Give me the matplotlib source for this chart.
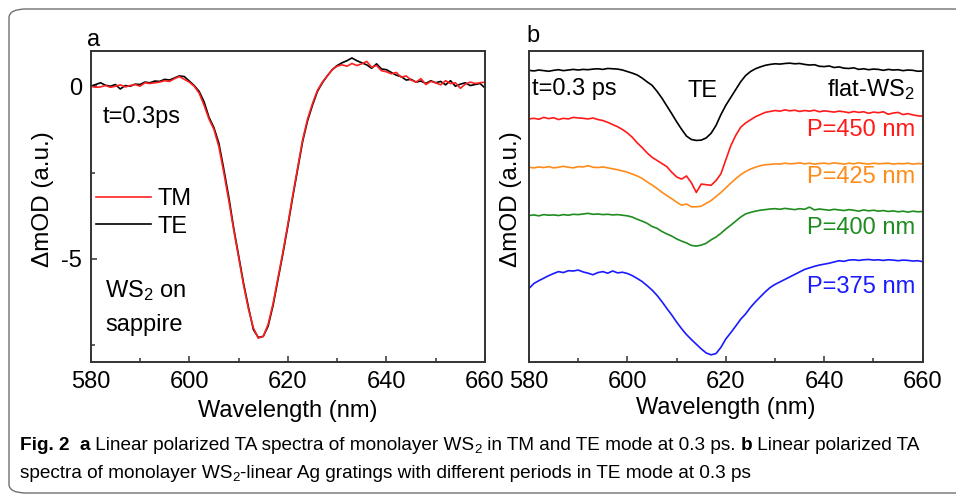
import numpy as np
import matplotlib
matplotlib.use("Agg")
from matplotlib import pyplot as plt
from matplotlib.patches import FancyBboxPatch

plt.rcParams['font.family'] = ['Liberation Sans', 'DejaVu Sans']
plt.rcParams['mathtext.fontset'] = 'custom'
plt.rcParams['mathtext.rm'] = 'Liberation Sans'
plt.rcParams['mathtext.it'] = 'Liberation Sans'

# ---- panel a : WS2 on sapphire, TM vs TE (1 nm steps, 580..660)
wl = np.arange(580, 661)
te = [0.00, 0.05, 0.10, 0.03, 0.00, 0.05, -0.08, 0.02, 0.00, 0.06,
      0.05, 0.12, 0.10, 0.15, 0.14, 0.20, 0.18, 0.24, 0.30, 0.28,
      0.15, 0.02, -0.15, -0.45, -0.90, -1.20, -1.65, -2.40, -3.20, -4.10,
      -4.90, -5.70, -6.40, -7.05, -7.28, -7.25, -6.95, -6.35, -5.60, -4.85,
      -4.05, -3.20, -2.40, -1.60, -1.00, -0.55, -0.15, 0.10, 0.30, 0.48,
      0.60, 0.68, 0.74, 0.82, 0.74, 0.68, 0.62, 0.52, 0.65, 0.50,
      0.48, 0.40, 0.32, 0.28, 0.18, 0.20, 0.12, 0.15, 0.08, 0.16,
      0.10, 0.14, 0.04, 0.16, 0.00, 0.06, 0.10, 0.02, 0.05, 0.08, -0.05]
tm = [0.00, -0.03, -0.02, 0.02, -0.03, 0.00, 0.04, -0.02, 0.02, 0.05,
      0.00, 0.10, 0.08, 0.10, 0.12, 0.16, 0.14, 0.22, 0.28, 0.20,
      0.12, 0.00, -0.20, -0.55, -0.95, -1.25, -1.75, -2.50, -3.30, -4.15,
      -4.95, -5.75, -6.45, -7.00, -7.30, -7.25, -6.90, -6.30, -5.55, -4.80,
      -4.00, -3.15, -2.35, -1.55, -0.95, -0.50, -0.12, 0.12, 0.30, 0.48,
      0.58, 0.62, 0.58, 0.66, 0.60, 0.65, 0.72, 0.55, 0.60, 0.45,
      0.42, 0.36, 0.40, 0.26, 0.30, 0.18, 0.12, 0.22, 0.05, 0.14,
      0.10, 0.04, 0.16, 0.08, 0.10, -0.06, 0.06, 0.12, 0.08, 0.10, 0.12]

# ---- panel b : gratings, TE mode (arbitrary offset units)
flat = [93.7, 93.5, 93.8, 93.6, 93.4, 93.7, 93.9, 93.6, 93.8, 94.0,
        93.8, 94.0, 93.9, 94.1, 94.2, 94.0, 94.3, 94.2, 94.1, 93.8,
        93.3, 92.8, 92.2, 91.2, 90.0, 88.9, 87.0, 84.8, 82.3, 79.8,
        77.2, 74.8, 72.6, 71.5, 71.2, 71.3, 72.0, 73.5, 76.0, 79.5,
        82.5, 85.0, 87.5, 90.0, 92.0, 93.3, 94.2, 94.8, 95.3, 95.6,
        95.8, 95.7, 95.9, 96.0, 95.8, 95.9, 95.6, 95.4, 95.5, 95.0,
        94.9, 95.1, 94.6, 94.8, 94.4, 94.3, 94.5, 94.0, 94.2, 93.9,
        94.1, 94.0, 93.7, 94.0, 93.8, 93.9, 93.6, 93.8, 93.7, 93.4, 93.5]
p450 = [78.1, 78.3, 78.0, 78.6, 78.2, 78.5, 77.9, 78.3, 78.1, 78.6,
        78.4, 78.3, 78.1, 78.4, 77.9, 77.6, 77.0, 76.3, 75.6, 74.7,
        73.6, 72.2, 70.4, 68.9, 67.2, 65.8, 64.8, 63.8, 62.8, 61.0,
        59.5, 58.8, 59.8, 57.6, 54.5, 57.2, 57.0, 56.8, 58.3, 60.5,
        65.0, 69.5, 72.8, 75.4, 76.8, 77.8, 78.8, 79.5, 80.2, 80.5,
        80.8, 80.6, 81.0, 80.7, 80.9, 80.5, 80.8, 80.6, 80.9, 80.4,
        80.7, 80.5, 80.3, 80.6, 80.4, 80.1, 80.5, 80.2, 80.4, 79.9,
        80.3, 80.1, 80.4, 79.6, 80.0, 80.2, 79.5, 79.8, 79.4, 79.1, 79.0]
p425 = [62.6, 62.4, 62.7, 62.5, 62.8, 62.4, 62.6, 62.9, 62.6, 62.4,
        62.8, 62.7, 63.1, 62.6, 62.5, 62.7, 62.4, 62.1, 61.8, 61.4,
        61.0, 60.4, 59.8, 59.0, 57.9, 56.9, 55.8, 54.6, 53.5, 52.5,
        51.4, 50.4, 50.8, 49.9, 49.9, 50.1, 51.0, 51.9, 53.2, 54.5,
        56.0, 57.5, 58.9, 60.2, 61.2, 62.0, 62.6, 63.1, 63.4, 63.5,
        63.7, 63.6, 63.9, 63.7, 63.8, 64.0, 63.7, 63.9, 63.6, 63.8,
        63.9, 63.7, 64.0, 63.8, 63.6, 63.9, 63.7, 64.0, 63.8, 63.6,
        63.9, 63.7, 63.8, 63.9, 63.6, 63.8, 63.7, 63.9, 63.6, 63.8, 63.7]
p400 = [47.1, 47.3, 47.0, 47.4, 47.2, 47.3, 47.1, 47.4, 47.2, 47.5,
        47.4, 47.6, 47.8, 47.5, 47.6, 47.4, 47.5, 47.3, 47.4, 47.2,
        47.0, 46.6, 45.9, 45.3, 44.6, 43.6, 43.0, 42.0, 41.2, 40.5,
        39.6, 38.9, 38.3, 37.5, 37.3, 37.6, 38.2, 39.3, 40.2, 41.4,
        42.8, 44.0, 45.3, 46.6, 47.6, 48.1, 48.5, 48.8, 49.0, 49.2,
        49.3, 49.1, 49.4, 49.2, 49.0, 49.3, 49.1, 49.8, 48.9, 49.2,
        49.0, 48.8, 49.1, 48.9, 48.7, 49.0, 48.8, 48.5, 48.9, 48.6,
        48.8, 48.5, 48.7, 48.4, 48.6, 48.3, 48.5, 48.2, 48.5, 48.3, 48.4]
p375 = [23.7, 25.3, 26.2, 27.0, 27.8, 28.5, 29.1, 28.8, 29.4, 29.3,
        29.6, 29.0, 28.6, 28.1, 28.8, 29.1, 28.6, 29.3, 28.7, 28.9,
        28.5, 27.8, 26.9, 25.9, 24.6, 23.2, 21.5, 19.5, 17.3, 15.2,
        12.9, 10.8, 8.9, 7.3, 5.8, 4.3, 3.0, 2.4, 2.8, 4.8,
        7.5, 9.5, 11.6, 13.8, 15.5, 17.6, 19.4, 21.0, 22.6, 24.0,
        25.0, 25.8, 26.6, 27.4, 28.2, 29.0, 29.8, 30.3, 30.8, 31.2,
        31.5, 31.8, 32.2, 32.6, 32.4, 32.8, 32.9, 32.7, 32.9, 33.0,
        32.8, 32.9, 32.7, 32.9, 32.8, 32.6, 32.8, 32.7, 32.5, 32.6, 32.3]
b_series = [flat, p450, p425, p400, p375]
b_labels = [r'flat-WS$_2$', 'P=450 nm', 'P=425 nm', 'P=400 nm', 'P=375 nm']
b_colors = ['black', '#ff1a1a', '#ff8c1a', '#1f8c1f', '#1a1aff']
b_label_y = [87.6, 74.4, 59.4, 43.0, 24.1]

W, H = 956, 496
FS = 17
fig = plt.figure(figsize=(W / 100, H / 100), dpi=100)

# rounded frame around figure + caption
frame = FancyBboxPatch((9 / W, 3 / H), 1.2, (493 - 9) / H,
                       boxstyle="round,pad=0,rounding_size=0.018",
                       transform=fig.transFigure, fill=False,
                       ec='#707070', lw=1.0)
fig.patches.append(frame)

def style(ax):
    for s in ax.spines.values():
        s.set_linewidth(1.4)
        s.set_color('#333333')
    ax.tick_params(which='both', direction='in', labelsize=FS, width=1.1,
                   top=False, right=False, pad=6, colors='#333333',
                   labelcolor='black')
    ax.tick_params(which='major', length=4)
    ax.tick_params(which='minor', length=3)
    ax.set_xlim(580, 660)
    ax.set_xticks([580, 600, 620, 640, 660])
    ax.set_xticks([590, 610, 630, 650], minor=True)
    ax.set_xlabel('Wavelength (nm)', fontsize=FS)

# panel a
ax1 = fig.add_axes([90.7 / W, 1 - 362.3 / H, 394.3 / W, 311.6 / H])
style(ax1)
l_te, = ax1.plot(wl, te, color='black', lw=1.2, label='TE')
l_tm, = ax1.plot(wl, tm, color='#ff2020', lw=1.2, label='TM')
ax1.set_ylim(-8.0, 1.03)
ax1.set_yticks([0, -5])
ax1.set_yticklabels(['0', '-5'])
ax1.set_yticks([-2.5, -7.5], minor=True)
ax1.set_ylabel('ΔmOD (a.u.)', fontsize=17.5)
ax1.yaxis.set_label_coords(-0.093, 0.524)
ax1.xaxis.set_label_coords(0.5, -0.122)
ax1.legend([l_tm, l_te], ['TM', 'TE'], frameon=False, fontsize=FS,
           loc='center left', bbox_to_anchor=(-0.041, 0.479),
           handlelength=2.33, handletextpad=0.3, labelspacing=0.22)
ax1.text(582.5, -0.9, 't=0.3ps', fontsize=FS, va='center', ha='left')
ax1.text(582.9, -5.91, r'WS$_2$ on', fontsize=FS, va='center', ha='left')
ax1.text(582.9, -6.93, 'sappire', fontsize=FS, va='center', ha='left')

# panel b
ax2 = fig.add_axes([529 / W, 1 - 362.3 / H, 393.7 / W, 311.6 / H])
style(ax2)
for ys, lab, c, ty in zip(b_series, b_labels, b_colors, b_label_y):
    ax2.plot(wl, ys, color=c, lw=1.2)
    ax2.text(658.5, ty, lab, color=c, fontsize=FS, ha='right', va='center')
ax2.set_ylim(0, 100)
ax2.set_yticks([])
ax2.set_ylabel('ΔmOD (a.u.)', fontsize=17.5)
ax2.yaxis.set_label_coords(-0.0185, 0.524)
ax2.xaxis.set_label_coords(0.5, -0.11)
ax2.text(580.6, 87.8, 't=0.3 ps', fontsize=FS, va='center', ha='left')
ax2.text(615.3, 87.2, 'TE', fontsize=FS, va='center', ha='center')

fig.text(93.7 / W, 1 - 40 / H, 'a', fontsize=FS, ha='center', va='center')
fig.text(533 / W, 1 - 36 / H, 'b', fontsize=FS, ha='center', va='center')

# caption, placed segment by segment (condensed face if available)
cap_font = ['Liberation Sans Narrow', 'Liberation Sans', 'DejaVu Sans']
cap_lines = [
    [('Fig. 2  ', 'bold', 0), ('a', 'bold', 0),
     (' Linear polarized TA spectra of monolayer WS', 'normal', 0), ('2', 'normal', 1),
     (' in TM and TE mode at 0.3 ps. ', 'normal', 0), ('b', 'bold', 0),
     (' Linear polarized TA', 'normal', 0)],
    [('spectra of monolayer WS', 'normal', 0), ('2', 'normal', 1),
     ('-linear Ag gratings with different periods in TE mode at 0.3 ps', 'normal', 0)],
]
cap_y = [450, 478]
renderer = fig.canvas.get_renderer()

def draw_line(segs, yb, size):
    x = 20.0
    arts = []
    for s, wgt, sub in segs:
        sz = size * 0.7 if sub else size
        yy = yb + 3 if sub else yb
        t = fig.text(x / W, 1 - yy / H, s, fontsize=sz, fontweight=wgt,
                     family=cap_font, fontstretch='condensed',
                     ha='left', va='baseline')
        x += t.get_window_extent(renderer).width
        arts.append(t)
    return arts, x

# fit the first caption line to the width used in the original (ends ~926 px)
arts, xend = draw_line(cap_lines[0], cap_y[0], 12.0)
cap_size = 12.0 * (926 - 20) / (xend - 20)
cap_size = min(cap_size, 14.0)
for a in arts:
    a.remove()
for segs, yb in zip(cap_lines, cap_y):
    draw_line(segs, yb, cap_size)

fig.savefig('out.png', dpi=100)
